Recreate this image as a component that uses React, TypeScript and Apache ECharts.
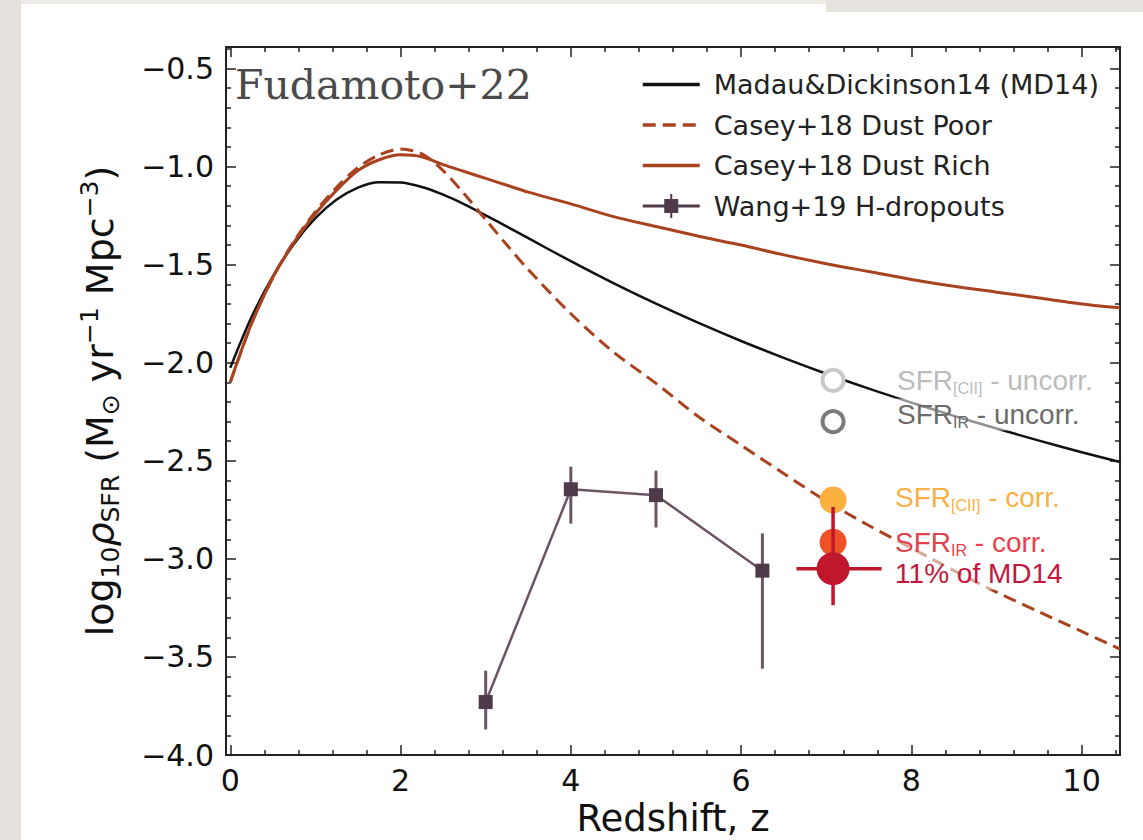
import React, { useEffect, useRef } from 'react';
import * as echarts from 'echarts';

// ---------- data ----------
const zGrid = [0, 0.25, 0.5, 0.75, 1, 1.25, 1.5, 1.75, 2, 2.25, 2.5, 2.75, 3, 3.25, 3.5, 4, 4.5, 5, 5.5, 6, 6.5, 7, 7.5, 8, 8.5, 9, 9.5, 10, 10.45];
const md14 = [-2.026, -1.767, -1.56, -1.393, -1.263, -1.168, -1.107, -1.08, -1.081, -1.104, -1.143, -1.192, -1.248, -1.306, -1.365, -1.482, -1.594, -1.699, -1.797, -1.889, -1.975, -2.056, -2.132, -2.203, -2.271, -2.335, -2.397, -2.456, -2.506];
const caseyPoor = [-2.1, -1.8, -1.565, -1.38, -1.23, -1.105, -1.005, -0.94, -0.91, -0.935, -1.02, -1.14, -1.27, -1.4, -1.525, -1.75, -1.945, -2.105, -2.275, -2.42, -2.565, -2.705, -2.83, -2.945, -3.06, -3.17, -3.27, -3.37, -3.46];
const caseyRich = [-2.1, -1.8, -1.565, -1.385, -1.24, -1.12, -1.02, -0.965, -0.94, -0.95, -0.99, -1.025, -1.06, -1.095, -1.13, -1.19, -1.255, -1.305, -1.355, -1.4, -1.45, -1.495, -1.535, -1.575, -1.61, -1.64, -1.67, -1.7, -1.72];

const wangZ = [3, 4, 5, 6.25];
const wangY = [-3.73, -2.645, -2.675, -3.06];
const wangHi = [-3.57, -2.53, -2.55, -2.87];
const wangLo = [-3.87, -2.82, -2.84, -3.56];

const obsZ = 7.08;
const obsY = [-2.09, -2.3, -2.7, -2.915, -3.05];
const obsPre = ['SFR', 'SFR', 'SFR', 'SFR', '11% of MD14'];
const obsSub = ['[CII]', 'IR', '[CII]', 'IR', ''];
const obsPost = [' - uncorr.', ' - uncorr.', ' - corr.', ' - corr.', ''];
const fracZErr = [6.65, 7.65];
const fracYErr = [-2.735, -3.236];

const xMajor = [0, 2, 4, 6, 8, 10];
const xMinor = [0.4, 0.8, 1.2, 1.6, 2.4, 2.8, 3.2, 3.6, 4.4, 4.8, 5.2, 5.6, 6.4, 6.8, 7.2, 7.6, 8.4, 8.8, 9.2, 9.6, 10.4];
const yMajor = [-4, -3.5, -3, -2.5, -2, -1.5, -1, -0.5];
const yMinor = [-3.9, -3.8, -3.7, -3.6, -3.4, -3.3, -3.2, -3.1, -2.9, -2.8, -2.7, -2.6, -2.4, -2.3, -2.2, -2.1, -1.9, -1.8, -1.7, -1.6, -1.4, -1.3, -1.2, -1.1, -0.9, -0.8, -0.7, -0.6, -0.4];

const X_MIN = -0.05, X_MAX = 10.45, Y_MIN = -4, Y_MAX = -0.39;

const names = ['Madau&Dickinson14 (MD14)', 'Casey+18 Dust Poor', 'Casey+18 Dust Rich', 'Wang+19 H-dropouts'];

const AX = '#222';
const BROWN = '#a9431f';
const WANG_LINE = '#6e5566';
const WANG_MK = '#4f3a4a';

const obsStyle = [
  { color: '#fff', border: '#c9c9c9', size: 21, text: '#bcbcbc', off: [0, 0] },
  { color: '#fff', border: '#7b7b7b', size: 21, text: '#6c6c6c', off: [0, -7] },
  { color: '#fbb040', border: '#fbb040', size: 27, text: '#f9b044', off: [0, -3] },
  { color: '#ef5126', border: '#ef5126', size: 27, text: '#e3434f', off: [0, 0] },
  { color: '#c0172d', border: '#c0172d', size: 33, text: '#c4173b', off: [0, 5] },
];

function mkX(position: string, ticks: number[], len: number, main: boolean): any {
  return {
    type: 'value', min: X_MIN, max: X_MAX, position,
    splitLine: { show: false },
    axisLine: { show: main, onZero: false, lineStyle: { color: AX, width: 2 } },
    axisTick: { show: true, inside: true, length: len, customValues: ticks, lineStyle: { color: AX, width: 1.5 } },
    axisLabel: main && position === 'bottom'
      ? { show: true, customValues: xMajor, margin: 10, color: '#111', fontFamily: 'DejaVu Sans', fontSize: 30, formatter: (v: number) => String(Math.round(v)) }
      : { show: false },
  };
}
function mkY(position: string, ticks: number[], len: number, main: boolean): any {
  return {
    type: 'value', min: Y_MIN, max: Y_MAX, position,
    splitLine: { show: false },
    axisLine: { show: main, onZero: false, lineStyle: { color: AX, width: 2 } },
    axisTick: { show: true, inside: true, length: len, customValues: ticks, lineStyle: { color: AX, width: 1.5 } },
    axisLabel: main && position === 'left'
      ? { show: true, customValues: yMajor, margin: 12, color: '#111', fontFamily: 'DejaVu Sans', fontSize: 30, formatter: (v: number) => (v < 0 ? '\u2212' : '') + Math.abs(v).toFixed(1) }
      : { show: false },
  };
}

const WANG_ICON = 'path://M0,10.5 L57,10.5 L57,13.5 L0,13.5 Z M21.5,5 L35.5,5 L35.5,19 L21.5,19 Z M27.5,0 L29.5,0 L29.5,24 L27.5,24 Z';

function buildOption(): any {
  const xAxes = [mkX('bottom', xMajor, 10, true), mkX('bottom', xMinor, 5, false), mkX('top', xMajor, 10, true), mkX('top', xMinor, 5, false)];
  xAxes[0].name = 'Redshift, z';
  xAxes[0].nameLocation = 'middle';
  xAxes[0].nameGap = 42;
  xAxes[0].nameTextStyle = { fontFamily: 'DejaVu Sans', fontSize: 37, color: '#111' };

  const yAxes = [mkY('left', yMajor, 10, true), mkY('left', yMinor, 5, false), mkY('right', yMajor, 10, true), mkY('right', yMinor, 5, false)];
  yAxes[0].name = '{t|log}{s|10}{r|\u03c1}{s|SFR}{t| (M}{s|\u2299}{t| yr}{p|\u22121}{t| Mpc}{p|\u22123}{t|)}';
  yAxes[0].nameLocation = 'middle';
  yAxes[0].nameGap = 103;
  yAxes[0].nameTextStyle = {
    color: '#111',
    rich: {
      t: { fontFamily: 'DejaVu Sans', fontSize: 38, lineHeight: 46, color: '#111' },
      r: { fontFamily: 'DejaVu Sans', fontStyle: 'italic', fontSize: 38, lineHeight: 46, color: '#111' },
      s: { fontFamily: 'DejaVu Sans', fontSize: 25, verticalAlign: 'bottom', color: '#111' },
      p: { fontFamily: 'DejaVu Sans', fontSize: 25, verticalAlign: 'top', color: '#111' },
    },
  };

  const lineData = (ys: number[]) => zGrid.map((z, i) => [z, ys[i]]);

  const obsItem = (i: number) => {
    const st = obsStyle[i];
    const txt = obsSub[i]
      ? `{t|${obsPre[i]}}{s|${obsSub[i]}}{t|${obsPost[i]}}`
      : `{t|${obsPre[i]}}`;
    return {
      value: [obsZ, obsY[i]],
      symbol: 'circle',
      symbolSize: st.size,
      itemStyle: { color: st.color, borderColor: st.border, borderWidth: i < 2 ? 4 : 0, opacity: 1 },
      label: {
        show: true, position: 'right', distance: 60 - st.size / 2, offset: st.off,
        formatter: txt,
        backgroundColor: 'rgba(255,255,255,0.55)',
        padding: [0, 2],
        rich: {
          t: { fontFamily: 'Liberation Sans', fontSize: 28, lineHeight: 32, color: st.text },
          s: { fontFamily: 'Liberation Sans', fontSize: 16, verticalAlign: 'bottom', color: st.text },
        },
      },
    };
  };

  return {
    animation: false,
    backgroundColor: '#ffffff',
    grid: { left: 226, top: 47, right: 23, bottom: 85, containLabel: false, outerBoundsMode: 'none' },
    xAxis: xAxes,
    yAxis: yAxes,
    legend: {
      show: true, orient: 'vertical', left: 636, top: 66,
      itemWidth: 57, itemHeight: 24, itemGap: 13.5,
      lineStyle: { width: 3.5 },
      data: [
        { name: names[0], itemStyle: { opacity: 0 } },
        { name: names[1], itemStyle: { opacity: 0 } },
        { name: names[2], itemStyle: { opacity: 0 } },
        { name: names[3], icon: WANG_ICON, itemStyle: { color: WANG_MK } },
      ],
      textStyle: { fontFamily: 'DejaVu Sans', fontSize: 27, color: '#222', padding: [0, 0, 0, 9] },
    },
    graphic: [
      { type: 'rect', shape: { x: 0, y: 0, width: 21, height: 840 }, style: { fill: '#e4e1dd' }, z: 0 },
      { type: 'rect', shape: { x: 21, y: 0, width: 1122, height: 4 }, style: { fill: '#eeebe7' }, z: 0 },
      { type: 'rect', shape: { x: 826, y: 0, width: 317, height: 12 }, style: { fill: '#e7e3de' }, z: 0 },
      { type: 'text', left: 235, top: 64, z: 100, style: { text: 'Fudamoto+22', font: '41px "DejaVu Serif"', fill: '#4a4a4a' } },
    ],
    series: [
      { name: names[0], type: 'line', data: lineData(md14), symbol: 'none', smooth: 0.3, z: 3,
        lineStyle: { color: '#111', width: 2.5 }, itemStyle: { color: '#111' } },
      { name: names[1], type: 'line', data: lineData(caseyPoor), symbol: 'none', smooth: 0.3, z: 3,
        lineStyle: { color: BROWN, width: 3, type: [13, 7] }, itemStyle: { color: BROWN } },
      { name: names[2], type: 'line', data: lineData(caseyRich), symbol: 'none', smooth: 0.3, z: 3,
        lineStyle: { color: BROWN, width: 3 }, itemStyle: { color: BROWN } },
      { name: names[3], type: 'line', data: wangZ.map((z, i) => [z, wangY[i]]), symbol: 'rect', symbolSize: 14, z: 4,
        lineStyle: { color: WANG_LINE, width: 2.5 }, itemStyle: { color: WANG_MK } },
      {
        name: 'wangErr', type: 'custom', z: 3, silent: true,
        data: wangZ.map((z, i) => [z, wangHi[i], wangLo[i]]),
        renderItem: (params: any, api: any) => {
          const a = api.coord([api.value(0), api.value(1)]);
          const b = api.coord([api.value(0), api.value(2)]);
          return { type: 'line', shape: { x1: a[0], y1: a[1], x2: b[0], y2: b[1] }, style: { stroke: WANG_LINE, lineWidth: 3 } };
        },
      },
      {
        name: 'obs', type: 'scatter', z: 5,
        data: [0, 1, 2, 3].map(obsItem),
      },
      {
        name: 'fracErr', type: 'custom', z: 6, silent: true,
        data: [[obsZ, obsY[4], fracZErr[0], fracZErr[1], fracYErr[0], fracYErr[1]]],
        renderItem: (params: any, api: any) => {
          const h1 = api.coord([api.value(2), api.value(1)]);
          const h2 = api.coord([api.value(3), api.value(1)]);
          const v1 = api.coord([api.value(0), api.value(4)]);
          const v2 = api.coord([api.value(0), api.value(5)]);
          const st = { stroke: '#c0172d', lineWidth: 3.5 };
          return {
            type: 'group',
            children: [
              { type: 'line', shape: { x1: h1[0], y1: h1[1], x2: h2[0], y2: h2[1] }, style: st },
              { type: 'line', shape: { x1: v1[0], y1: v1[1], x2: v2[0], y2: v2[1] }, style: st },
            ],
          };
        },
      },
      {
        name: 'frac', type: 'scatter', z: 7,
        data: [obsItem(4)],
      },
    ],
  };
}

export default function App() {
  const ref = useRef<HTMLDivElement>(null);
  useEffect(() => {
    if (!ref.current) return;
    const chart = echarts.init(ref.current, null, { renderer: 'svg' });
    chart.setOption(buildOption());
    return () => chart.dispose();
  }, []);
  return (
    <div
      ref={ref}
      style={{ position: 'absolute', left: 0, top: 0, width: 1143, height: 840, background: '#fff' }}
    />
  );
}
